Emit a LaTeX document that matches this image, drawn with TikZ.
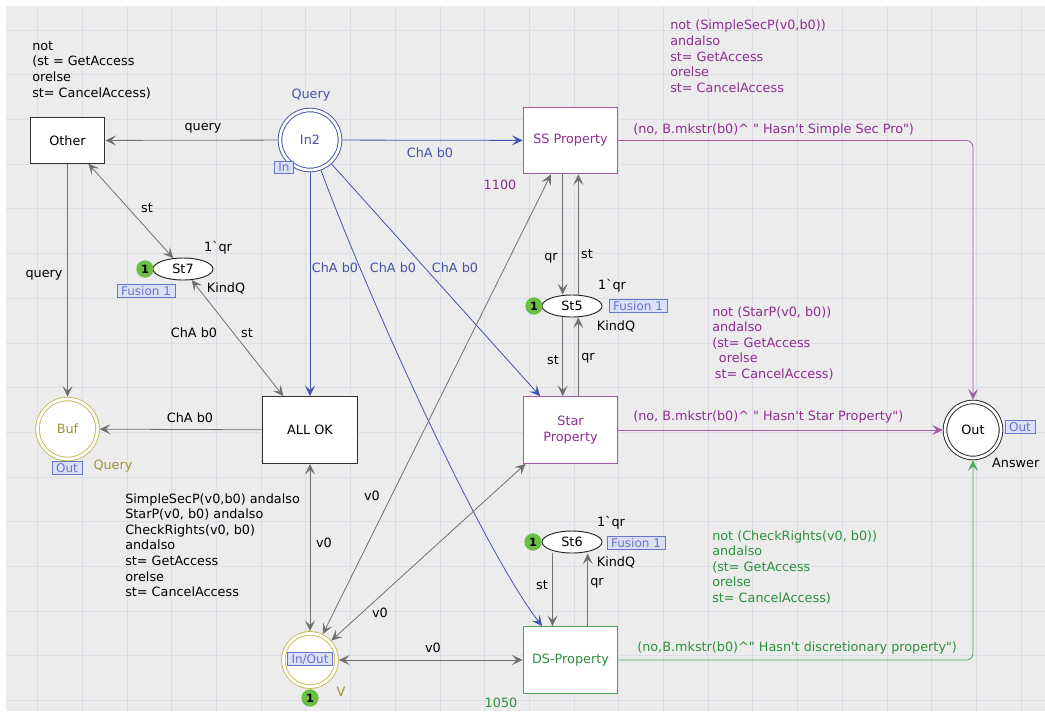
\documentclass[tikz,border=0pt]{standalone}
\usepackage{fontspec}
\setmainfont{DejaVu Sans}
\usetikzlibrary{arrows.meta,shapes.geometric}

\definecolor{bggrey}{HTML}{ECECEC}
\definecolor{gridline}{HTML}{DCDDE6}
\definecolor{arcgrey}{HTML}{707070}
\definecolor{cpnblue}{HTML}{4454A8}
\definecolor{cpnpurple}{HTML}{8E2E8E}
\definecolor{boxpurple}{HTML}{A45AA4}
\definecolor{cpngreen}{HTML}{2F8E40}
\definecolor{boxgreen}{HTML}{4DA55B}
\definecolor{cpnolive}{HTML}{9C9632}
\definecolor{ringolive}{HTML}{C4BD55}
\definecolor{tokgreen}{HTML}{6DBE44}
\definecolor{tagblue}{HTML}{6676C8}
\definecolor{tagfill}{HTML}{DCE0F6}

\tikzstyle{trans}=[rectangle,draw=black!80,fill=white,line width=0.8pt,minimum width=71pt,minimum height=50pt,inner sep=2pt,align=center]
\tikzstyle{place}=[circle,draw=black!85,fill=white,double=white,double distance=2pt,line width=0.7pt,inner sep=0pt,outer sep=1.7pt,minimum size=44pt]
\tikzstyle{fplace}=[ellipse,draw=black!85,fill=white,line width=0.7pt,minimum width=45pt,minimum height=16.5pt,inner sep=0pt]
\tikzstyle{token}=[circle,fill=tokgreen,minimum size=13pt,inner sep=0pt,font=\fontsize{8.5}{9}\selectfont\bfseries]
\tikzstyle{cpntag}=[rectangle,draw=tagblue,fill=tagfill,text=tagblue,line width=0.5pt,inner xsep=3pt,inner ysep=1pt,text height=6.8pt,text depth=0.5pt,font=\fontsize{9}{10}\selectfont]
\tikzstyle{inscr}=[align=left,inner sep=0pt]
\tikzstyle{cpnarc}=[draw=arcgrey,line width=0.6pt,-{Stealth[length=8pt,width=7.5pt,inset=3.5pt]}]
\tikzstyle{cpnbiarc}=[draw=arcgrey,line width=0.6pt,{Stealth[length=8pt,width=7.5pt,inset=3.5pt]}-{Stealth[length=8pt,width=7.5pt,inset=3.5pt]}]

\begin{document}
\begin{tikzpicture}[x=0.75pt,y=-0.75pt,font=\fontsize{9.6}{11.7}\selectfont]
    \useasboundingbox (0,0) rectangle (1045,711);
    \fill[white] (0,0) rectangle (1045,711);
    \fill[bggrey] (6,6) rectangle (1045,711);
    \foreach \gx in {0,...,22}
    \draw[gridline,line width=0.5pt] ({37.6+44.7*\gx},6) -- ({37.6+44.7*\gx},711);
    \foreach \gy in {0,...,15}
    \draw[gridline,line width=0.5pt] (6,{30+44.7*\gy}) -- (1045,{30+44.7*\gy});

    % places
    \node[place,draw=cpnblue,text=cpnblue,minimum size=45pt] (In2) at (310,140) {In2};
    \node[place,draw=ringolive,text=cpnolive,minimum size=45pt] (Buf) at (67.5,429) {Buf};
    \node[place,draw=ringolive,minimum size=40pt] (V) at (310,660) {};
    \node[place,minimum size=42pt] (Out) at (973,430) {Out};
    \node[fplace] (St7) at (183,269) {St7};
    \node[fplace] (St5) at (572,306) {St5};
    \node[fplace] (St6) at (572,542) {St6};

    % transitions
    \node[trans,minimum width=56pt,minimum height=34pt] (Other) at (67.5,140.5) {Other};
    \node[trans,draw=boxpurple,text=cpnpurple] (SS) at (570.5,140.5) {SS Property};
    \node[trans] (ALLOK) at (310,430) {ALL OK};
    \node[trans,draw=boxpurple,text=cpnpurple] (Star) at (570.5,430) {Star\\Property};
    \node[trans,draw=boxgreen,text=cpngreen] (DS) at (570.5,660) {DS-Property};

    % tokens and tags
    \node[token] (tk7) at (145,269) {1};
    \node[token] (tk5) at (534,306) {1};
    \node[token] (tk6) at (533,542) {1};
    \node[token] (tkV) at (310,698) {1};
    \node[cpntag] (tagIn) at (284,167.5) {In};
    \node[cpntag] (tagBuf) at (67,468) {Out};
    \node[cpntag] (tagOut) at (1020,427) {Out};
    \node[cpntag] (tagV) at (310,659) {In/Out};
    \node[cpntag] (tag7) at (146,291) {Fusion 1};
    \node[cpntag] (tag5) at (638,306) {Fusion 1};
    \node[cpntag] (tag6) at (636,543) {Fusion 1};

    % place labels
    \node[text=cpnblue] (lQuery) at (311,95) {Query};
    \node[text=cpnolive] (lBufQ) at (113,466) {Query};
    \node[text=cpnolive] (lV) at (341,692) {V};
    \node[anchor=east] (lAns) at (1044,463) {Answer};
    \node (lqr7) at (218,248) {1\textasciigrave qr};
    \node (lkq7) at (226,288) {KindQ};
    \node (lqr5) at (612,286) {1\textasciigrave qr};
    \node (lkq5) at (616,326) {KindQ};
    \node (lqr6) at (611,523) {1\textasciigrave qr};
    \node (lkq6) at (616,562) {KindQ};
    \node[text=cpnpurple] (l1100) at (500,185) {1100};
    \node[text=cpngreen] (l1050) at (501,703) {1050};

    % arcs
    \foreach \from/\to in {In2/Other,Other/Buf,ALLOK/Buf}
    \draw[cpnarc] (\from) -- (\to);
    \foreach \from/\to in {Other/St7,St7/ALLOK,ALLOK/V,V/DS}
    \draw[cpnbiarc] (\from) -- (\to);
    \foreach \to in {SS,ALLOK,Star}
    \draw[cpnarc,draw=cpnblue] (In2) -- (\to);
    \draw[cpnarc,draw=cpnblue] (In2.-70) .. controls (365,290) and (480,545) .. (DS.130);
    \draw[cpnbiarc] (V) -- (SS.-120);
    \draw[cpnbiarc] (V) -- (Star.-143);

    \draw[cpnarc] (SS.-103) -- (SS.-103 |- St5.north);
    \draw[cpnarc] (SS.-77 |- St5.north) -- (SS.-77);
    \draw[cpnarc] (Star.103 |- St5.south) -- (Star.103);
    \draw[cpnarc] (Star.77) -- (Star.77 |- St5.south);
    \draw[cpnarc] (DS.118 |- St6.south) -- (DS.118);
    \draw[cpnarc] (DS.63) -- (DS.63 |- St6.south);

    \draw[cpnarc,draw=boxpurple,rounded corners=5pt] (SS) -| (Out);
    \draw[cpnarc,draw=boxpurple] (Star) -- (Out);
    \draw[cpnarc,draw=boxgreen,rounded corners=5pt] (DS) -| (Out);

    % arc inscriptions
    \node[inscr] (iq1) at (203,128) {query};
    \node[inscr] (iq2) at (44,275) {query};
    \node[inscr] (ist1) at (147,208) {st};
    \node[inscr] (icha7) at (194,333) {ChA b0};
    \node[inscr] (ist7) at (247,333) {st};
    \node[inscr] (ichabuf) at (190,418) {ChA b0};
    \node[inscr] (iv1) at (324,543) {v0};
    \node[inscr] (iv2) at (372,496) {v0};
    \node[inscr] (iv3) at (380,613) {v0};
    \node[inscr] (iv4) at (433,648) {v0};
    \node[inscr] (iqr1) at (551,258) {qr};
    \node[inscr] (ist2) at (587,254) {st};
    \node[inscr] (ist3) at (553,360) {st};
    \node[inscr] (iqr2) at (588,358) {qr};
    \node[inscr] (ist4) at (542,585) {st};
    \node[inscr] (iqr3) at (597,583) {qr};
    \node[inscr,text=cpnblue] (ib1) at (430,153) {ChA b0};
    \node[inscr,text=cpnblue] (ib2) at (335,268) {ChA b0};
    \node[inscr,text=cpnblue] (ib3) at (393,268) {ChA b0};
    \node[inscr,text=cpnblue] (ib4) at (455,268) {ChA b0};
    \node[inscr,text=cpnpurple,anchor=west] (iss) at (633,130) {(no, B.mkstr(b0)\textasciicircum{} \textquotedbl{} Hasn\textquotesingle t Simple Sec Pro\textquotedbl)};
    \node[inscr,text=cpnpurple,anchor=west] (istar) at (633,417) {(no, B.mkstr(b0)\textasciicircum{} \textquotedbl{} Hasn\textquotesingle t Star Property\textquotedbl)};
    \node[inscr,text=cpngreen,anchor=west] (ids) at (637,648) {(no,B.mkstr(b0)\textasciicircum\textquotedbl{} Hasn\textquotesingle t discretionary property\textquotedbl)};

    % guards
    \node[inscr,anchor=north west] (gOther) at (32,41) {not\\(st = GetAccess\\orelse\\st= CancelAccess)};
    \node[inscr,anchor=north west,text=cpnpurple] (gSS) at (670,20) {not (SimpleSecP(v0,b0))\\andalso\\st= GetAccess\\orelse\\st= CancelAccess};
    \node[inscr,anchor=north west,text=cpnpurple] (gStar) at (712,306) {not (StarP(v0, b0))\\andalso\\(st= GetAccess\\\hspace{5pt}orelse\\\hspace{2pt}st= CancelAccess)};
    \node[inscr,anchor=north west,text=cpngreen] (gDS) at (712,530) {not (CheckRights(v0, b0))\\andalso\\(st= GetAccess\\orelse\\st= CancelAccess)};
    \node[inscr,anchor=north west] (gOK) at (125,493) {SimpleSecP(v0,b0) andalso\\StarP(v0, b0) andalso\\CheckRights(v0, b0)\\andalso\\st= GetAccess\\orelse\\st= CancelAccess};
\end{tikzpicture}
\end{document}
